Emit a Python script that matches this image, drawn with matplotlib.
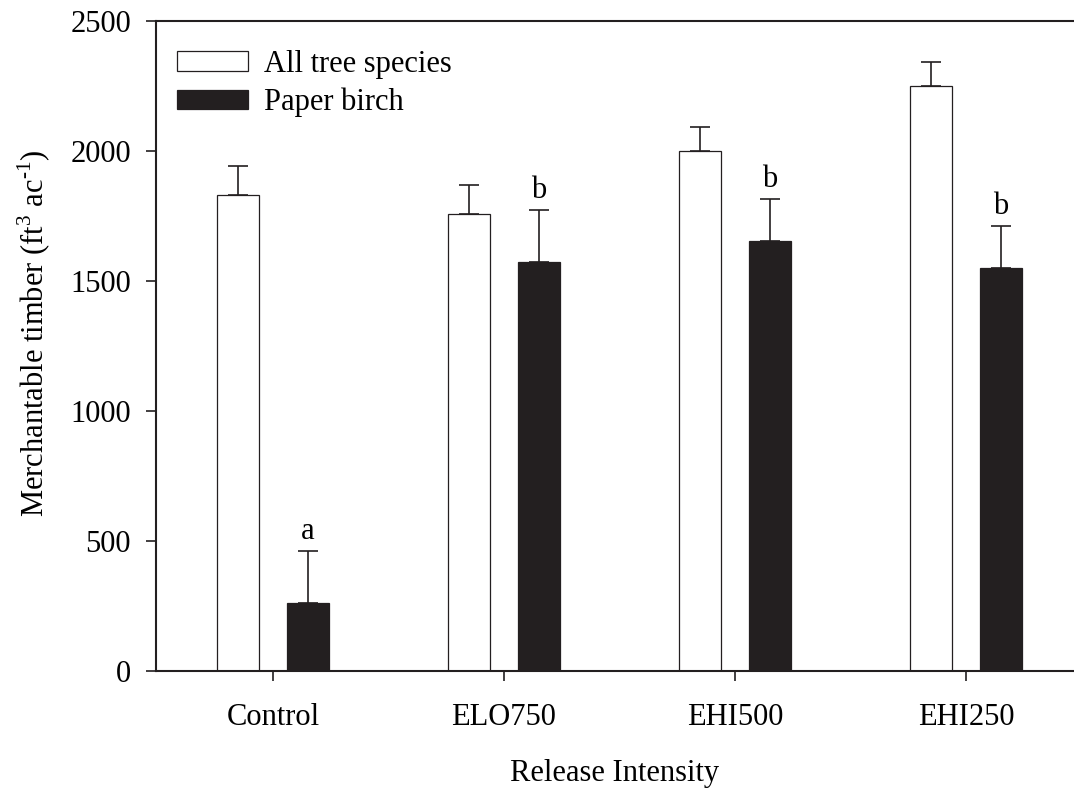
import numpy as np
import matplotlib
matplotlib.use("Agg")
import matplotlib.pyplot as plt
from matplotlib.patches import Patch

plt.rcParams["font.family"] = ["Liberation Serif", "DejaVu Serif"]
plt.rcParams["mathtext.fontset"] = "custom"
plt.rcParams["mathtext.rm"] = "Liberation Serif"

categories = ["Control", "ELO750", "EHI500", "EHI250"]
all_species = [1830, 1758, 2000, 2250]
all_species_err = [112, 112, 92, 91]
birch = [263, 1573, 1655, 1549]
birch_err = [198, 200, 162, 163]
birch_letters = ["a", "b", "b", "b"]

DARK = "#231f20"
FS = 22

fig = plt.figure(figsize=(10.74, 7.88), dpi=100)
ax = fig.add_axes([156 / 1074, 1 - 671 / 788, 1 - 156 / 1074, 650 / 788])

x = np.arange(len(categories))
w = 0.18
off = 0.152

ax.bar(x - off, all_species, w, color="white", edgecolor=DARK, linewidth=0.9, zorder=2)
ax.bar(x + off, birch, w, color=DARK, edgecolor=DARK, linewidth=0.9, zorder=2)

ekw = dict(fmt="none", ecolor=DARK, elinewidth=1.2, capsize=7.2, capthick=1.2, zorder=3)
ax.errorbar(x - off, all_species, yerr=[np.zeros(4), all_species_err], **ekw)
ax.errorbar(x + off, birch, yerr=[np.zeros(4), birch_err], **ekw)

# significance letters above the birch bars
for xi, top, lab in zip(x + off, np.array(birch) + np.array(birch_err), birch_letters):
    ax.text(xi, top + 18, lab, ha="center", va="bottom", fontsize=FS, color="black")

ax.set_xlim(-0.506, 3.468)
ax.set_ylim(0, 2500)
ax.set_yticks(np.arange(0, 2501, 500))
ax.set_xticks(x)
ax.set_xticklabels(categories)

for s in ["left", "bottom", "top"]:
    ax.spines[s].set_linewidth(1.5)
    ax.spines[s].set_color(DARK)
ax.spines["right"].set_visible(False)
ax.tick_params(axis="both", direction="out", length=7, width=1.2, color=DARK,
               labelsize=FS, pad=11)
ax.tick_params(axis="x", pad=16)

ax.set_ylabel("Merchantable timber (ft$^3$ ac$^{\u2010\\mathrm{1}}$)", fontsize=FS)
ax.yaxis.set_label_coords(-0.112, 0.52)
ax.set_xlabel("Release Intensity", fontsize=FS)
ax.xaxis.set_label_coords(0.5, -0.135)

handles = [Patch(facecolor="white", edgecolor=DARK, linewidth=0.9, label="All tree species"),
           Patch(facecolor=DARK, edgecolor=DARK, linewidth=0.9, label="Paper birch")]
ax.legend(handles=handles, loc="upper left", bbox_to_anchor=(0.0, 0.989), frameon=False,
          fontsize=FS, handlelength=2.3, handleheight=0.62, handletextpad=0.55,
          labelspacing=0.3, borderaxespad=0.3, borderpad=0.4)

fig.savefig("out.png", dpi=100)
